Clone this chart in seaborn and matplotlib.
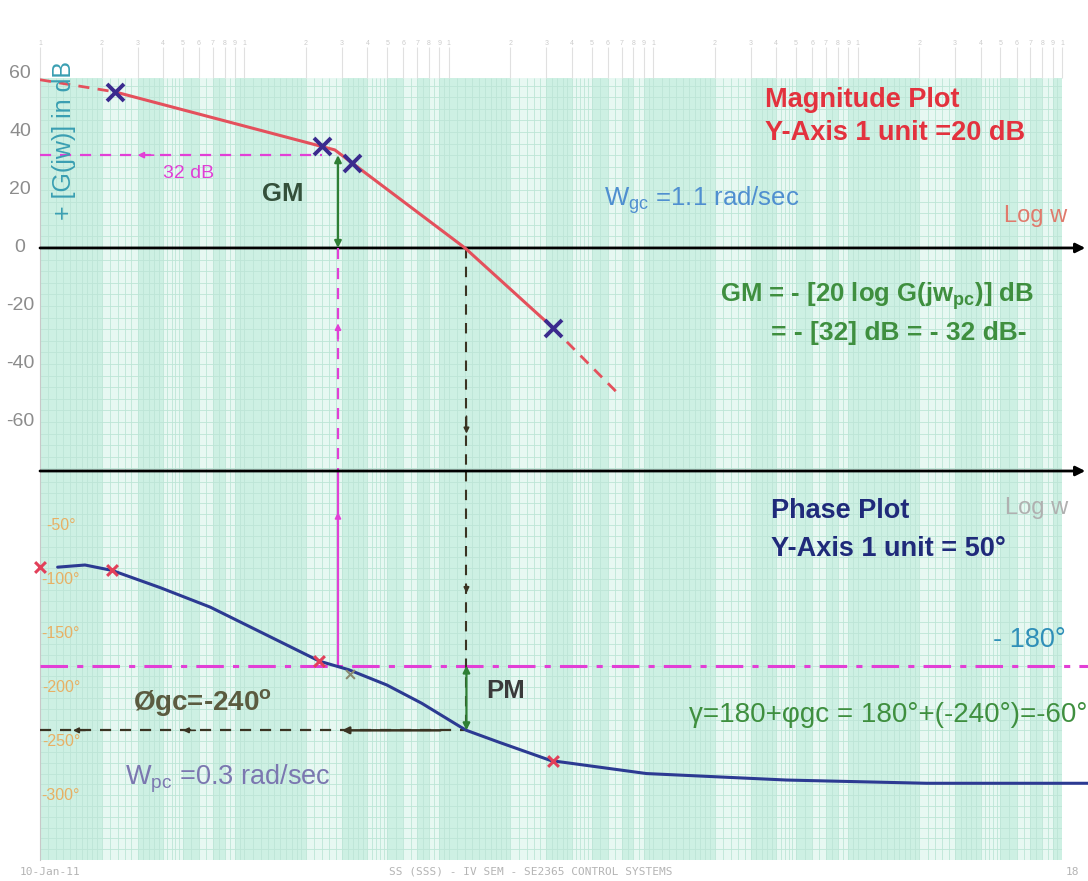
import numpy as np;
import matplotlib;
matplotlib.use('Agg');
import matplotlib.pyplot as plt;
from matplotlib.transforms import blended_transform_factory;
import seaborn as sns;

# Values (frequency in rad/sec, magnitude in dB, phase in degrees)
mag_w = [0.0233, 0.277, 1.2, 3.24];
mag_db = [53.8, 33.8, 0.0, -27.6];
mag_lo_w = [0.01, 0.0233];
mag_lo_db = [58.0, 53.8];
mag_hi_w = [3.24, 6.8];
mag_hi_db = [-27.6, -50.5];
mag_x_w = [0.0233, 0.240, 0.336, 3.24];
mag_x_db = [53.8, 35.2, 29.3, -27.6];

phase_w = [0.0122, 0.0166, 0.0225, 0.0388, 0.0681, 0.233, 0.287, 0.325, 0.497, 0.738, 1.145, 1.22, 1.76, 3.16, 9.27, 44.9, 218, 1340];
phase_deg = [-89, -87, -92, -108, -126, -176, -181, -184, -198, -215, -237, -240, -251, -268, -280, -286, -289, -289];
phase_x_w = [0.01, 0.0225, 0.233, 3.24];
phase_x_deg = [-89, -92, -176, -268];
phase_x2_w = [0.33];
phase_x2_deg = [-188];

w_pc = 0.287;
w_gc = 1.22;
gm_db = 32;
ph_ref = -180;
ph_gc = -240;

mag_ticks = [60, 40, 20, 0, -20, -40, -60];
phase_ticks = [-50, -100, -150, -200, -250, -300];

# colours
RED = '#e4505c';
NAVY = '#2c3a92';
XNAVY = '#3a2a8e';
XRED = '#e2405a';
MAGENTA = '#e23fd6';
GREEN = '#2f7f35';
DARK = '#3a3322';
PAPER = '#e7f8f2';
STRIPE = '#cdf0e3';
GRID = '#bde5d6';

sns.set_style('white');
plt.rcParams['font.family'] = ['Liberation Sans', 'DejaVu Sans'];

W, H = 1088, 881;
def px(x, y):
    return (x / W, 1 - y / H);

fig = plt.figure(figsize=(W / 100, H / 100), dpi=100);
ax_mag = fig.add_axes([40 / W, 1 - 471 / H, 1022 / W, 393 / H]);
ax_ph = fig.add_axes([40 / W, 1 - 860 / H, 1022 / W, 389 / H], sharex=ax_mag);

mag_lim = (-76.9, 58.6);
ph_lim = (-360.0, 0.0);

# graph paper
fine = [];
for d in range(-2, 3):
    for k in list(np.arange(1, 2, 0.1)) + list(np.arange(2, 5, 0.2)) + list(np.arange(5, 10, 0.5)):
        fine.append(k * 10.0 ** d);
for ax, lim, step in [(ax_mag, mag_lim, 4), (ax_ph, ph_lim, 10)]:
    ax.set_xscale('log');
    ax.set_facecolor(PAPER);
    ax.set_ylim(*lim);
    for d in range(-2, 3):
        for k in [1, 3, 5, 7, 9]:
            ax.axvspan(k * 10.0 ** d, (k + 1) * 10.0 ** d, color=STRIPE, lw=0, zorder=0);
    ax.vlines(fine, lim[0], lim[1], color=GRID, lw=0.6, zorder=0.5);
    hl = np.arange(0, lim[0], -step);
    if lim[1] > 0:
        hl = np.concatenate([hl, np.arange(step, lim[1], step)]);
    ax.hlines(hl, 0.01, 1000, color=GRID, lw=0.6, zorder=0.5);
    for s in ['top', 'right', 'bottom']:
        ax.spines[s].set_visible(False);
    ax.spines['left'].set_color('#c8c8c8');
    ax.tick_params(axis='y', left=False, labelleft=False);
ax_mag.set_xlim(0.01, 1000);

# log-paper top scale
top_ticks = [k * 10.0 ** d for d in range(-2, 3) for k in range(1, 10)] + [1000];
top_labels = [str(k) for d in range(-2, 3) for k in range(1, 10)] + ['1'];
ax_mag.set_xticks(top_ticks, top_labels);
ax_mag.xaxis.set_minor_locator(matplotlib.ticker.NullLocator());
ax_mag.tick_params(axis='x', top=True, labeltop=True, bottom=False, labelbottom=False,
                   length=22, width=0.8, color='#e0e0e0', labelcolor='#cccccc', labelsize=5, pad=0);
ax_ph.tick_params(axis='x', top=False, bottom=False, labelbottom=False, labeltop=False);

# magnitude plot
sns.lineplot(x=mag_w, y=mag_db, ax=ax_mag, color=RED, linewidth=2.2, sort=False, estimator=None, zorder=4);
sns.lineplot(x=mag_lo_w, y=mag_lo_db, ax=ax_mag, color=RED, linewidth=2.0, linestyle=(0, (4, 3)), sort=False, estimator=None, zorder=4);
sns.lineplot(x=mag_hi_w, y=mag_hi_db, ax=ax_mag, color=RED, linewidth=2.0, linestyle=(0, (4, 3)), sort=False, estimator=None, zorder=4);
sns.scatterplot(x=mag_x_w, y=mag_x_db, ax=ax_mag, marker='x', s=150, linewidth=2.8, color=XNAVY, zorder=6, legend=False);

# 0 dB axis
ax_mag.annotate('', xy=(1300, 0), xytext=(0.01, 0), annotation_clip=False,
                arrowprops=dict(arrowstyle='-|>', color='black', lw=2, mutation_scale=14, shrinkA=0, shrinkB=0), zorder=3);

# gain margin construction
ax_mag.plot([0.01, mag_x_w[1]], [gm_db, gm_db], color=MAGENTA, lw=1.6, ls=(0, (5, 4)), zorder=3);
ax_mag.annotate('', xy=(0.030, gm_db), xytext=(0.036, gm_db),
                arrowprops=dict(arrowstyle='-|>', color=MAGENTA, lw=1.2, mutation_scale=9, shrinkA=0, shrinkB=0));
ax_mag.annotate('', xy=(w_pc, 0), xytext=(w_pc, gm_db),
                arrowprops=dict(arrowstyle='<|-|>', color=GREEN, lw=1.6, mutation_scale=10, shrinkA=0, shrinkB=0), zorder=5);
ax_mag.plot([w_pc, w_pc], [0, mag_lim[0]], color=MAGENTA, lw=1.6, ls=(0, (5, 4)), zorder=3);
ax_mag.annotate('', xy=(w_pc, -26), xytext=(w_pc, -32),
                arrowprops=dict(arrowstyle='-|>', color=MAGENTA, lw=1.2, mutation_scale=9, shrinkA=0, shrinkB=0));
ax_mag.plot([w_gc, w_gc], [0, mag_lim[0]], color=DARK, lw=1.5, ls=(0, (5, 4)), zorder=3);
ax_mag.annotate('', xy=(w_gc, -64), xytext=(w_gc, -58),
                arrowprops=dict(arrowstyle='-|>', color=DARK, lw=1.2, mutation_scale=8, shrinkA=0, shrinkB=0));

# phase plot
sns.lineplot(x=phase_w, y=phase_deg, ax=ax_ph, color=NAVY, linewidth=2.2, sort=False, estimator=None, zorder=4, clip_on=False);
sns.scatterplot(x=phase_x_w, y=phase_x_deg, ax=ax_ph, marker='x', s=60, linewidth=2.2, color=XRED, zorder=6, legend=False, clip_on=False);
sns.scatterplot(x=phase_x2_w, y=phase_x2_deg, ax=ax_ph, marker='x', s=40, linewidth=1.5, color='#8a8a70', zorder=6, legend=False);

ax_ph.annotate('', xy=(1300, 0), xytext=(0.01, 0), annotation_clip=False,
               arrowprops=dict(arrowstyle='-|>', color='black', lw=2, mutation_scale=14, shrinkA=0, shrinkB=0), zorder=7);
ax_ph.plot([0.01, 1340], [ph_ref, ph_ref], color=MAGENTA, lw=2.2, ls=(0, (9, 3, 2, 3)), zorder=3, clip_on=False);

# phase margin construction
ax_ph.plot([w_pc, w_pc], [0, ph_ref], color=MAGENTA, lw=1.6, zorder=3);
ax_ph.annotate('', xy=(w_pc, -38), xytext=(w_pc, -45),
               arrowprops=dict(arrowstyle='-|>', color=MAGENTA, lw=1.2, mutation_scale=9, shrinkA=0, shrinkB=0));
ax_ph.plot([w_gc, w_gc], [0, ph_gc], color=DARK, lw=1.5, ls=(0, (5, 4)), zorder=3);
ax_ph.annotate('', xy=(w_gc, -113), xytext=(w_gc, -106),
               arrowprops=dict(arrowstyle='-|>', color=DARK, lw=1.2, mutation_scale=8, shrinkA=0, shrinkB=0));
ax_ph.annotate('', xy=(w_gc, ph_gc), xytext=(w_gc, ph_ref),
               arrowprops=dict(arrowstyle='<|-|>', color=GREEN, lw=1.6, mutation_scale=10, shrinkA=0, shrinkB=0), zorder=5);
ax_ph.plot([0.01, w_gc], [ph_gc, ph_gc], color=DARK, lw=1.6, ls=(0, (5, 4)), zorder=3);
ax_ph.annotate('', xy=(0.30, ph_gc), xytext=(0.91, ph_gc),
               arrowprops=dict(arrowstyle='-|>', color=DARK, lw=1.8, mutation_scale=10, shrinkA=0, shrinkB=0), zorder=4);
for xa in [0.0145, 0.05]:
    ax_ph.annotate('', xy=(xa, ph_gc), xytext=(xa * 1.15, ph_gc),
                   arrowprops=dict(arrowstyle='-|>', color=DARK, lw=1.2, mutation_scale=8, shrinkA=0, shrinkB=0));

# axis numbers
tm = blended_transform_factory(fig.transFigure, ax_mag.transData);
for v in mag_ticks:
    ax_mag.text(20 / W, v, str(v), transform=tm, ha='center', va='center', fontsize=14, color='#8c8c8c', clip_on=False);
tp = blended_transform_factory(fig.transFigure, ax_ph.transData);
for v in phase_ticks:
    ax_ph.text(61 / W, v, f'{v}°', transform=tp, ha='center', va='center', fontsize=11.5, color='#e8b064', zorder=8);

# labels
def ftxt(x, y, s, **kw):
    fig.text(*px(x, y), s, va='center', ha=kw.pop('ha', 'left'), **kw);

ftxt(64, 140, '+ [G(jw)] in dB', ha='center', rotation=90, fontsize=18, color='#3a9fb2');
ftxt(765, 100, 'Magnitude Plot', color='#e3323e', fontsize=19.5, fontweight='bold');
ftxt(765, 133, 'Y-Axis 1 unit =20 dB', color='#e3323e', fontsize=19.5, fontweight='bold');
ftxt(604, 200, r'W$_{\mathregular{gc}}$ =1.1 rad/sec', color='#4f8fd0', fontsize=18.5);
ftxt(1004, 216, 'Log w', color='#e07a6c', fontsize=17);
ftxt(163, 173, '32 dB', color='#e03fd6', fontsize=14);
ftxt(262, 194, 'GM', color='#34503a', fontsize=18.5, fontweight='bold');
ftxt(720, 296, r'GM = - [20 log G(jw$_{\mathregular{pc}}$)] dB', color='#3f8f3f', fontsize=18.5, fontweight='bold');
ftxt(771, 333, '= - [32] dB = - 32 dB-', color='#3f8f3f', fontsize=19, fontweight='bold');
ftxt(771, 511, 'Phase Plot', color='#1f2a7a', fontsize=19.5, fontweight='bold');
ftxt(771, 549, 'Y-Axis 1 unit = 50°', color='#1f2a7a', fontsize=19.5, fontweight='bold');
ftxt(1005, 508, 'Log w', color='#b0b0b0', fontsize=17);
ftxt(993, 640, '- 180°', color='#2f8fb8', fontsize=19.5);
ftxt(486, 691, 'PM', color='#3a3a3a', fontsize=18.5, fontweight='bold');
ftxt(133, 703, r'Øgc=-240$^{\mathregular{o}}$', color='#5b5b40', fontsize=20, fontweight='bold');
ftxt(689, 715, 'γ=180+φgc = 180°+(-240°)=-60°', color='#3f8f3f', fontsize=20);
ftxt(125, 779, r'W$_{\mathregular{pc}}$ =0.3 rad/sec', color='#7b77b0', fontsize=19.5);

# footer
ftxt(20, 872, '10-Jan-11', color='#b4b4b4', fontsize=8, family='DejaVu Sans Mono');
ftxt(389, 872, 'SS (SSS) - IV SEM - SE2365 CONTROL SYSTEMS', color='#b4b4b4', fontsize=8, family='DejaVu Sans Mono');
ftxt(1066, 872, '18', color='#b4b4b4', fontsize=8, family='DejaVu Sans Mono');

fig.savefig('out.png', dpi=100);
